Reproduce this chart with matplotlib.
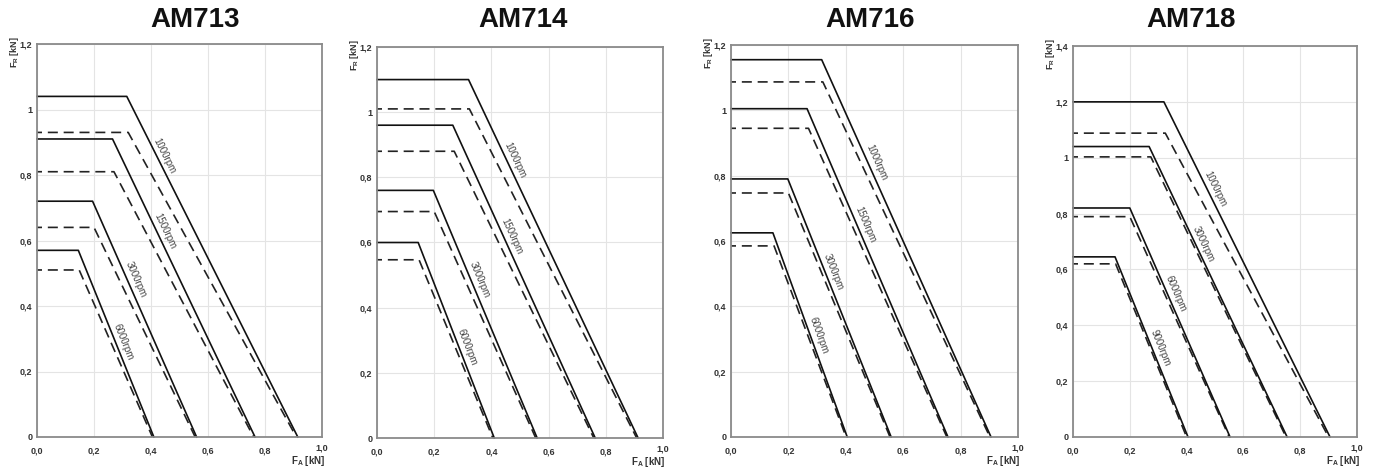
import matplotlib
matplotlib.use("Agg")
import matplotlib.pyplot as plt
import matplotlib.transforms as mtransforms
import numpy as np

plt.rcParams['font.family'] = ['Liberation Sans', 'DejaVu Sans']

titles = ["AM713", "AM714", "AM716", "AM718"]
speeds = [["1000rpm", "1500rpm", "3000rpm", "6000rpm"],
          ["1000rpm", "1500rpm", "3000rpm", "6000rpm"],
          ["1000rpm", "1500rpm", "3000rpm", "6000rpm"],
          ["1000rpm", "3000rpm", "6000rpm", "9000rpm"]]
y_max = [1.2, 1.2, 1.2, 1.4]

# solid curves: flat level, knee FA, FA where FR reaches 0
solid_level = [[1.04, 0.91, 0.72, 0.57],
               [1.10, 0.96, 0.76, 0.60],
               [1.155, 1.005, 0.79, 0.625],
               [1.20, 1.04, 0.82, 0.645]]
solid_knee = [[0.315, 0.265, 0.195, 0.145],
              [0.32, 0.265, 0.197, 0.144],
              [0.316, 0.265, 0.198, 0.146],
              [0.32, 0.268, 0.20, 0.148]]
solid_end = [[0.915, 0.765, 0.56, 0.41],
             [0.913, 0.763, 0.56, 0.41],
             [0.906, 0.756, 0.558, 0.405],
             [0.905, 0.754, 0.553, 0.405]]

# dashed curves
dashed_level = [[0.93, 0.81, 0.64, 0.51],
                [1.01, 0.88, 0.695, 0.547],
                [1.087, 0.945, 0.747, 0.585],
                [1.088, 1.003, 0.789, 0.62]]
dashed_knee = [[0.32, 0.27, 0.20, 0.148],
               [0.323, 0.27, 0.20, 0.147],
               [0.32, 0.27, 0.20, 0.15],
               [0.325, 0.274, 0.20, 0.15]]
dashed_end = [[0.91, 0.76, 0.555, 0.405],
              [0.908, 0.758, 0.555, 0.405],
              [0.902, 0.752, 0.554, 0.401],
              [0.90, 0.75, 0.55, 0.40]]

# FR height where each speed label sits
label_y = [[0.86, 0.63, 0.48, 0.29],
           [0.853, 0.62, 0.485, 0.28],
           [0.84, 0.65, 0.505, 0.31],
           [0.89, 0.69, 0.515, 0.32]]

W, H = 1379, 475
fig = plt.figure(figsize=(W / 100, H / 100), dpi=100)

# axes boxes in pixels: left, right, top, bottom
boxes = [(37, 322, 44, 437), (377, 663, 47, 438),
         (731, 1018, 45, 437), (1073, 1357, 46, 437)]
title_x = [195, 523, 870, 1191]


def fmt_y(v):
    if abs(v - round(v)) < 1e-9:
        return "%d" % round(v)
    return ("%.1f" % v).replace(".", ",")


for p in range(4):
    l, r, t, b = boxes[p]
    ax = fig.add_axes([l / W, (H - b) / H, (r - l) / W, (b - t) / H])
    ax.set_xlim(0, 1.0)
    ax.set_ylim(0, y_max[p])
    xt = np.arange(0, 1.01, 0.2)
    yt = np.arange(0, y_max[p] + 0.01, 0.2)
    ax.set_xticks(xt)
    ax.set_yticks(yt)
    xlabels = [("%.1f" % v).replace(".", ",") for v in xt]
    ax.set_xticklabels(xlabels[:-1] + [""])
    ax.set_yticklabels([fmt_y(v) for v in yt])
    ax.tick_params(length=0, labelsize=6.5, colors='#333333')
    ax.tick_params(axis='x', pad=7)
    ax.tick_params(axis='y', pad=3.5)
    for lab in ax.get_xticklabels() + ax.get_yticklabels():
        lab.set_fontweight('bold')
    # last x tick sits a little higher, above the axis title
    ax.text(1.0, -0.029, xlabels[-1], transform=ax.transAxes, ha='center',
            va='center', fontsize=6.5, fontweight='bold', color='#333333')
    ax.grid(True, color='#e4e4e4', lw=0.8)
    ax.set_axisbelow(True)
    for s in ax.spines.values():
        s.set_color('#8a8a8a')
        s.set_linewidth(1.3)

    for i in range(4):
        ax.plot([0, dashed_knee[p][i], dashed_end[p][i]],
                [dashed_level[p][i], dashed_level[p][i], 0],
                color='#222222', lw=1.2, ls=(3, (6, 3.5)), clip_on=False)
        ax.plot([0, solid_knee[p][i], solid_end[p][i]],
                [solid_level[p][i], solid_level[p][i], 0],
                color='#111111', lw=1.2, clip_on=False)

        # label along the sloped part of the solid curve
        F, K, Z = solid_level[p][i], solid_knee[p][i], solid_end[p][i]
        yl = label_y[p][i]
        xl = K + (F - yl) / F * (Z - K)
        p1 = ax.transData.transform((K, F))
        p2 = ax.transData.transform((Z, 0))
        ang = np.degrees(np.arctan2(p2[1] - p1[1], p2[0] - p1[0]))
        tr = mtransforms.offset_copy(ax.transData, fig=fig, x=6, y=0, units='points')
        ax.text(xl, yl, speeds[p][i], transform=tr, rotation=ang,
                rotation_mode='anchor', ha='center', va='center',
                fontsize=7, color='#444444')

    ax.text(-0.08, 1.02, "F$_\\mathregular{R}$ [kN]", transform=ax.transAxes,
            rotation=90, ha='center', va='top', fontsize=6.5, fontweight='bold',
            color='#333333')
    ax.text(0.95, -0.062, "F$_\\mathregular{A}$ [kN]", transform=ax.transAxes,
            ha='center', va='center', fontsize=7, fontweight='bold',
            color='#333333')

    fig.text(title_x[p] / W, 1 - 20 / H, titles[p], ha='center', va='center',
             fontsize=20, fontweight='bold', color='#111111')

fig.savefig("out.png", dpi=100, facecolor='white')
